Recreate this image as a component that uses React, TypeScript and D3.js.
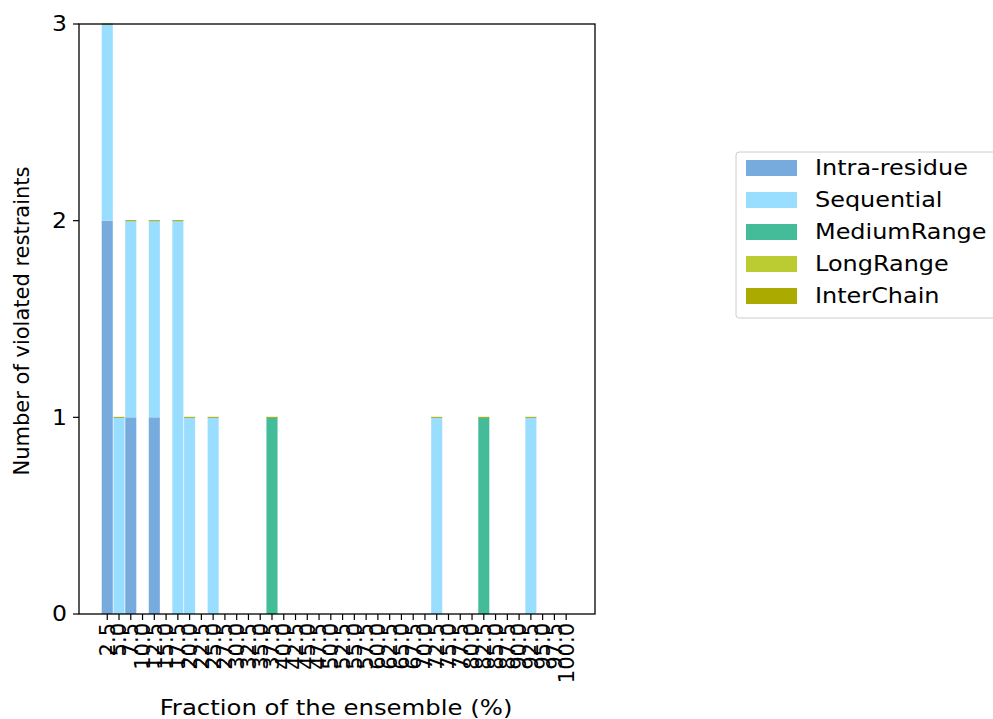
import React from "react";
import * as d3 from "d3";

const categories = Array.from({ length: 40 }, (_, i) => ((i + 1) * 2.5).toFixed(1));
const intra = [2,0,1,0,1,0,0,0,0,0,0,0,0,0,0,0,0,0,0,0,0,0,0,0,0,0,0,0,0,0,0,0,0,0,0,0,0,0,0,0];
const seq =   [1,1,1,0,1,0,2,1,0,1,0,0,0,0,0,0,0,0,0,0,0,0,0,0,0,0,0,0,1,0,0,0,0,0,0,0,1,0,0,0];
const medium =[0,0,0,0,0,0,0,0,0,0,0,0,0,0,1,0,0,0,0,0,0,0,0,0,0,0,0,0,0,0,0,0,1,0,0,0,0,0,0,0];
const longR = new Array(40).fill(0);
const inter = new Array(40).fill(0);
const seriesNames = ["Intra-residue","Sequential","MediumRange","LongRange","InterChain"];
const colors = ["#77aadd","#99ddff","#44bb99","#bbcc33","#aaaa00"];
const yTicks = [0,1,2,3];

export default function App() {
  const L = 79, R = 595, T = 24, B = 614;
  const x = d3.scaleLinear().domain([-2.4, 41.45]).range([L, R]);
  const y = d3.scaleLinear().domain([0, 3]).range([B, T]);
  const series = [intra, seq, medium, longR, inter];
  const bw = x(0.47) - x(-0.47);
  const font = "DejaVu Sans, sans-serif";
  const rects: any[] = [];
  categories.forEach((c, i) => {
    let base = 0;
    series.forEach((s, k) => {
      const v = s[i];
      if (v > 0) {
        rects.push(<rect key={`${i}-${k}`} x={x(i) - bw / 2} width={bw} y={y(base + v)} height={y(base) - y(base + v)} fill={colors[k]} />);
      }
      base += v;
    });
    if (base > 0) {
      rects.push(<line key={`t${i}`} x1={x(i) - bw / 2} x2={x(i) + bw / 2} y1={y(base)} y2={y(base)} stroke={colors[4]} strokeWidth={1} />);
    }
  });
  return (
    <svg width={993} height={719} style={{ position: "absolute", left: 0, top: 0 }} fontFamily={font}>
      <rect width={993} height={719} fill="#fff" />
      <g>{rects}</g>
      <rect x={L} y={T} width={R - L} height={B - T} fill="none" stroke="#000" strokeWidth={1.3} />
      {yTicks.map(t => (
        <g key={t}>
          <line x1={L - 6} x2={L} y1={y(t)} y2={y(t)} stroke="#000" strokeWidth={1.2} />
          <text transform={`translate(${L - 12},${y(t)}) scale(1.12,1)`} dy="0.35em" textAnchor="end" fontSize={21}>{t}</text>
        </g>
      ))}
      {categories.map((c, i) => (
        <g key={c}>
          <line x1={x(i)} x2={x(i)} y1={B} y2={B + 6} stroke="#000" strokeWidth={1.2} />
          <text transform={`translate(${x(i)},${B + 9}) rotate(-90)`} textAnchor="end" dy="0.35em" fontSize={21}>{c}</text>
        </g>
      ))}
      <text transform={`translate(${(L + R) / 2 - 1},715) scale(1.16,1)`} textAnchor="middle" fontSize={21}>Fraction of the ensemble (%)</text>
      <text transform={`translate(29,${(T + B) / 2 + 2}) rotate(-90)`} textAnchor="middle" fontSize={21}>Number of violated restraints</text>
      <rect x={736} y={152} width={262} height={166} rx={3} fill="#fff" stroke="#ccc" strokeWidth={1} />
      {seriesNames.map((n, k) => (
        <g key={n}>
          <rect x={746} y={160 + k * 32} width={51} height={16} fill={colors[k]} />
          <text transform={`translate(815,${168 + k * 32}) scale(1.14,1)`} dy="0.35em" fontSize={21}>{n}</text>
        </g>
      ))}
    </svg>
  );
}
